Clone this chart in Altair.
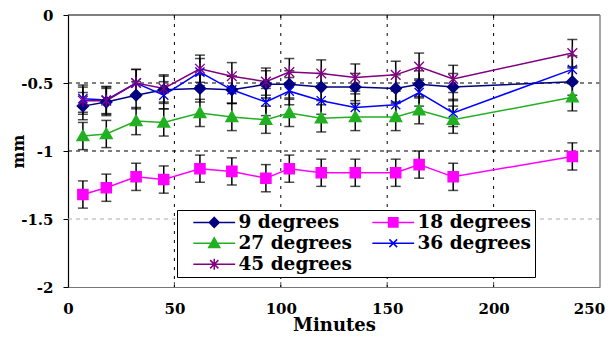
import altair as alt
import pandas as pd

# ---- data ----
minutes = [7, 18, 32, 45, 62, 77, 93, 104, 119, 135, 154, 165, 181, 237]
series_names = ["9 degrees", "18 degrees", "27 degrees", "36 degrees", "45 degrees"]

deg9 = [-0.67, -0.64, -0.59, -0.55, -0.54, -0.55, -0.51, -0.51, -0.53, -0.53, -0.54, -0.51, -0.53, -0.49]
deg18 = [-1.32, -1.27, -1.19, -1.21, -1.13, -1.15, -1.20, -1.13, -1.16, -1.16, -1.16, -1.10, -1.19, -1.04]
deg27 = [-0.89, -0.875, -0.78, -0.79, -0.72, -0.75, -0.77, -0.72, -0.76, -0.75, -0.75, -0.70, -0.77, -0.605]
deg36 = [-0.615, -0.625, -0.50, -0.59, -0.42, -0.55, -0.64, -0.56, -0.63, -0.68, -0.66, -0.57, -0.72, -0.40]
deg45 = [-0.63, -0.63, -0.50, -0.54, -0.395, -0.45, -0.49, -0.42, -0.43, -0.46, -0.44, -0.38, -0.47, -0.28]

err9 = [0.10, 0.10, 0.10, 0.10, 0.10, 0.10, 0.10, 0.10, 0.10, 0.10, 0.10, 0.10, 0.10, 0.10]
err18 = [0.10, 0.10, 0.10, 0.10, 0.10, 0.10, 0.10, 0.10, 0.10, 0.10, 0.10, 0.10, 0.10, 0.10]
err27 = [0.10, 0.10, 0.10, 0.10, 0.10, 0.10, 0.10, 0.10, 0.10, 0.10, 0.10, 0.10, 0.10, 0.10]
err36 = [0.10, 0.10, 0.10, 0.10, 0.10, 0.10, 0.10, 0.10, 0.10, 0.10, 0.10, 0.10, 0.10, 0.10]
err45 = [0.10, 0.10, 0.10, 0.10, 0.10, 0.10, 0.10, 0.10, 0.10, 0.10, 0.10, 0.10, 0.10, 0.10]

x_ticks = [0, 50, 100, 150, 200, 250]
y_ticks = [0, -0.5, -1, -1.5, -2]
vgrid_vals = [50, 100, 150, 200]
hgrid_black = [-0.5, -1]
hgrid_gray = [-1.5]
frame_ticks = [50, 100, 150, 200]

# ---- styles ----
colors = ["#000080", "#FF00FF", "#22B022", "#0000FF", "#800080"]
plot_shapes = [
    "M0,-1L1,0L0,1L-1,0Z",
    "M-0.9,-0.9H0.9V0.9H-0.9Z",
    "M0,-1.05L1.05,0.8H-1.05Z",
    "M-0.8,-0.8L0.8,0.8M0.8,-0.8L-0.8,0.8",
    "M-0.85,-0.85L0.85,0.85M0.85,-0.85L-0.85,0.85M0,-1.1V1.1",
]
legend_shapes = [
    "M-3.8,0H3.8M0,-0.9L0.9,0L0,0.9L-0.9,0Z",
    "M-3.8,0H3.8M-0.85,-0.85H0.85V0.85H-0.85Z",
    "M-3.8,0H3.8M0,-1L1,0.75H-1Z",
    "M-3.8,0H3.8M-0.7,-0.7L0.7,0.7M0.7,-0.7L-0.7,0.7",
    "M-3.8,0H3.8M-0.75,-0.75L0.75,0.75M0.75,-0.75L-0.75,0.75M0,-1V1",
]
FONT = "DejaVu Serif"

rows = []
for name, ys, es in zip(series_names, [deg9, deg18, deg27, deg36, deg45],
                        [err9, err18, err27, err36, err45]):
    for m, y, e in zip(minutes, ys, es):
        rows.append({"series": name, "minutes": m, "mm": y, "lo": y - e, "hi": y + e})
df = pd.DataFrame(rows)

x_scale = alt.Scale(domain=[0, 250], nice=False, zero=False)
y_scale = alt.Scale(domain=[-2, 0], nice=False, zero=False)

x_axis = alt.Axis(values=x_ticks, grid=False, ticks=False, domainColor="#777777", domainWidth=1.2,
                  labelFont=FONT, labelFontWeight="bold", labelFontSize=15, labelColor="black",
                  labelPadding=14, labelFlush=False, labelOverlap=False,
                  labelOffset={"condition": {"test": "datum.value == 250", "value": -11}, "value": 0},
                  title="Minutes", titleFont=FONT, titleFontWeight="bold", titleFontSize=18,
                  titleColor="black", titlePadding=0)
y_axis = alt.Axis(values=y_ticks, grid=False, ticks=True, tickSize=5, tickColor="black",
                  domainColor="black", domainWidth=1.2,
                  labelFont=FONT, labelFontWeight="bold", labelFontSize=15, labelColor="black",
                  labelPadding=10, labelExpr="datum.value + ''", labelFlush=False,
                  title="mm", titleFont=FONT, titleFontWeight="bold", titleFontSize=16,
                  titleColor="black", titlePadding=-3, titleBaseline="alphabetic")

X = alt.X("minutes:Q", scale=x_scale, axis=x_axis)
Y = alt.Y("mm:Q", scale=y_scale, axis=y_axis)

color_scale = alt.Scale(domain=series_names, range=colors)

leg = alt.Legend(title=None, orient="none", legendX=109, legendY=195, columns=2,
                 direction="horizontal",
                 padding=3, strokeColor="black", fillColor="white",
                 symbolSize=121, symbolStrokeWidth=1.5, symbolOffset=25,
                 labelOffset=15, labelFont=FONT, labelFontWeight="bold", labelFontSize=18.5,
                 labelColor="black", labelLimit=0, rowPadding=2, columnPadding=6)

hgrid1 = alt.Chart(pd.DataFrame({"mm": hgrid_black})).mark_rule(
    color="black", strokeDash=[4, 4], strokeWidth=1).encode(y=Y)
hgrid2 = alt.Chart(pd.DataFrame({"mm": hgrid_gray})).mark_rule(
    color="#aaaaaa", strokeDash=[4, 4], strokeWidth=1).encode(y=Y)
vgrid = alt.Chart(pd.DataFrame({"minutes": vgrid_vals})).mark_rule(
    color="black", strokeDash=[3, 6], strokeWidth=1).encode(x=X)
top_border = alt.Chart(pd.DataFrame({"minutes": [0]})).mark_rule(
    color="black", strokeWidth=1.2).encode(y=alt.datum(0, scale=y_scale))
right_border = alt.Chart(pd.DataFrame({"minutes": [0]})).mark_rule(
    color="#888888", strokeWidth=1.5).encode(x=alt.datum(250, scale=x_scale))
tick_df = pd.DataFrame({"minutes": frame_ticks})
top_ticks = alt.Chart(tick_df).mark_tick(orient="vertical", size=5, thickness=1,
                                          color="black", yOffset=2.5).encode(
    x=X, y=alt.datum(0, scale=y_scale))
bottom_ticks = alt.Chart(tick_df).mark_tick(orient="vertical", size=5, thickness=1,
                                             color="black", yOffset=-2.5).encode(
    x=X, y=alt.datum(-2, scale=y_scale))

base = alt.Chart(df)
err_rules = base.mark_rule(color="black", strokeWidth=1.5).encode(
    x=X, y=alt.Y("lo:Q", scale=y_scale), y2="hi:Q")
caps_lo = base.mark_tick(orient="horizontal", size=10, thickness=1.5, color="black").encode(
    x=X, y=alt.Y("lo:Q", scale=y_scale))
caps_hi = base.mark_tick(orient="horizontal", size=10, thickness=1.5, color="black").encode(
    x=X, y=alt.Y("hi:Q", scale=y_scale))

lines = base.mark_line(strokeWidth=1.5).encode(
    x=X, y=Y, color=alt.Color("series:N", scale=color_scale, legend=None))
points = base.mark_point(filled=True, opacity=1, size=130, strokeWidth=1.3).encode(
    x=X, y=Y,
    color=alt.Color("series:N", scale=color_scale, legend=None),
    stroke=alt.Stroke("series:N", scale=color_scale, legend=None),
    shape=alt.Shape("series:N", scale=alt.Scale(domain=series_names, range=plot_shapes), legend=None))

legend_layer = base.transform_filter("false").mark_point(
    filled=True, opacity=1, size=121, strokeWidth=1.5).encode(
    x=X, y=Y,
    color=alt.Color("series:N", scale=color_scale, legend=leg),
    stroke=alt.Stroke("series:N", scale=color_scale, legend=leg),
    shape=alt.Shape("series:N", scale=alt.Scale(domain=series_names, range=legend_shapes), legend=leg))

chart = alt.layer(
    hgrid2, hgrid1, vgrid, top_border, right_border, top_ticks, bottom_ticks,
    err_rules, caps_lo, caps_hi, lines, points, legend_layer
).resolve_scale(
    color="independent", stroke="independent", shape="independent"
).properties(
    width=532, height=272,
    autosize=alt.AutoSizeParams(type="none"),
    padding={"left": 60, "top": 7, "right": 5, "bottom": 46},
    background="white",
).configure_view(stroke=None)

chart.save("out.html", embed_options={"renderer": "svg", "actions": False})
